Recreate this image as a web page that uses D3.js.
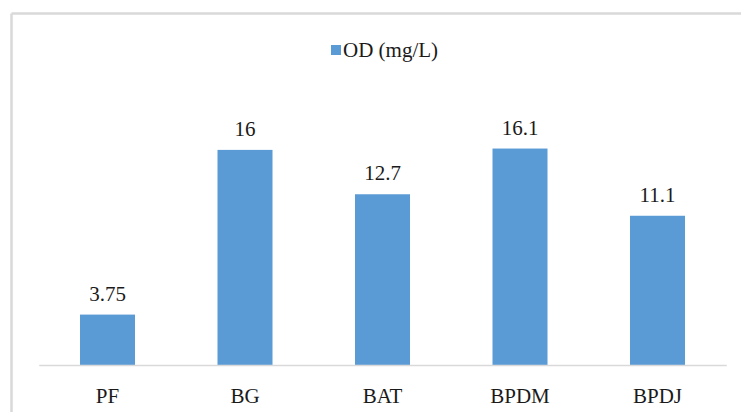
<!DOCTYPE html>
<html>
<head>
<meta charset="utf-8">
<script src="https://cdn.jsdelivr.net/npm/d3@7"></script>
<style>
  html, body { margin: 0; padding: 0; background: #fff; }
  svg { display: block; }
</style>
</head>
<body>
<svg id="chart" width="741" height="412"></svg>
<script>
// OD (mg/L) by sample
const categories = ["PF", "BG", "BAT", "BPDM", "BPDJ"];
const odValues = [3.75, 16, 12.7, 16.1, 11.1];
const valueLabels = ["3.75", "16", "12.7", "16.1", "11.1"];
const seriesName = "OD (mg/L)";

const W = 741, H = 412;
const FONT = '"Times New Roman", Times, serif';
const textColor = "#1a1a1a";
const svg = d3.select("#chart");
const barColor = "#5b9bd5";
const gridColor = "#d9d9d9";

// Chart frame (top and left edges visible)
svg.append("line").attr("x1", 11.5).attr("x2", W).attr("y1", 13.5).attr("y2", 13.5)
  .attr("stroke", gridColor).attr("stroke-width", 2.5);
svg.append("line").attr("x1", 11.5).attr("x2", 11.5).attr("y1", 13.5).attr("y2", H)
  .attr("stroke", gridColor).attr("stroke-width", 2.5);

const x = d3.scaleBand().domain(categories).range([38.75, 726.25]).paddingInner(0.6).paddingOuter(0.3);
const y = d3.scaleLinear().domain([0, 18]).range([365, 123]);

// Bars
svg.append("g").selectAll("rect").data(categories).join("rect")
  .attr("x", d => x(d))
  .attr("width", x.bandwidth())
  .attr("y", (d, i) => y(odValues[i]))
  .attr("height", (d, i) => y(0) - y(odValues[i]))
  .attr("fill", barColor);

// Category axis
const xAxis = svg.append("g").attr("transform", `translate(0,${y(0)})`)
  .call(d3.axisBottom(x).tickSize(0).tickPadding(23));
xAxis.select(".domain").attr("stroke", gridColor).attr("stroke-width", 1.5);
xAxis.selectAll("text")
  .style("font-family", FONT).style("font-size", "21px").style("fill", textColor);

// Value labels
svg.append("g").selectAll("text").data(categories).join("text")
  .attr("x", d => x(d) + x.bandwidth() / 2)
  .attr("y", (d, i) => y(odValues[i]) - 14)
  .attr("text-anchor", "middle")
  .style("font-family", FONT).style("font-size", "21px").style("fill", textColor)
  .text((d, i) => valueLabels[i]);

// Legend
const legend = svg.append("g").attr("transform", "translate(331,45)");
legend.append("rect").attr("width", 10).attr("height", 10).attr("fill", barColor);
legend.append("text").attr("x", 12).attr("y", 12)
  .style("font-family", FONT).style("font-size", "21px").style("fill", textColor)
  .text(seriesName);
</script>
</body>
</html>
